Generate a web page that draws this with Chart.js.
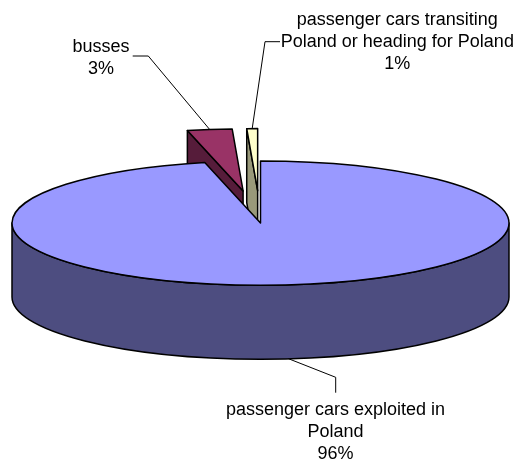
<!DOCTYPE html>
<html>
<head>
<meta charset="utf-8">
<script src="https://cdn.jsdelivr.net/npm/chart.js@4.4.1/dist/chart.umd.min.js"></script>
<style>
  html, body { margin: 0; padding: 0; background: #fff; }
  canvas { display: block; }
</style>
</head>
<body>
<canvas id="chart" width="522" height="465"></canvas>
<script>
const categories = [
  ['passenger cars exploited in', 'Poland'],
  ['busses'],
  ['passenger cars transiting', 'Poland or heading for Poland'],
];
const shares = [96.4, 2.9, 0.7];

const topColors = ['#9999ff', '#993366', '#ffffcc'];
const sideColors = ['#4d4d80', '#561c3a', '#99997a'];
const explode = [0, 0.52, 0.52]; // fraction of the radius
const tilt = 0.25;   // how flat the ellipse is
const depth = 74;    // thickness of the pie, px
const font = '18px "Liberation Sans", Arial, sans-serif';

// label centre + first baseline, and the two fixed points of each leader line
const labelSpots = [
  { x: 335.5, y: 415, path: [[335.7, 392.7], [335.7, 377.3]], from: 'bottom' },
  { x: 101, y: 51.7, path: [[132.7, 56], [148.3, 56]], from: 'top' },
  { x: 397.3, y: 25, path: [[280, 41.7], [265, 41.7]], from: 'top' },
];

function sliceGeometry(chart) {
  return chart.getDatasetMeta(0).data.map((arc, i) => {
    const { x, y, startAngle, endAngle, outerRadius } =
      arc.getProps(['x', 'y', 'startAngle', 'endAngle', 'outerRadius'], true);
    const mid = (startAngle + endAngle) / 2;
    const push = explode[i] * outerRadius;
    return {
      arc, i, x, y, mid, push,
      a0: startAngle, a1: endAngle,
      cx: x + Math.cos(mid) * push,
      cy: y + Math.sin(mid) * push * tilt,
      rx: outerRadius,
      ry: outerRadius * tilt,
    };
  });
}

const pie3d = {
  id: 'pie3d',
  beforeDatasetsDraw(chart) {
    const ctx = chart.ctx;
    const slices = sliceGeometry(chart);
    ctx.save();
    ctx.lineWidth = 1.5;
    ctx.strokeStyle = '#000';
    ctx.lineJoin = 'round';

    // cut faces turned towards the viewer
    slices.forEach(s => {
      const walls = [];
      if (Math.cos(s.a0) < -1e-6) walls.push(s.a0);
      if (Math.cos(s.a1) > 1e-6) walls.push(s.a1);
      walls.forEach(a => {
        const ox = s.cx + Math.cos(a) * s.rx;
        const oy = s.cy + Math.sin(a) * s.ry;
        ctx.beginPath();
        ctx.moveTo(s.cx, s.cy);
        ctx.lineTo(ox, oy);
        ctx.lineTo(ox, oy + depth);
        ctx.lineTo(s.cx, s.cy + depth);
        ctx.closePath();
        ctx.fillStyle = sideColors[s.i];
        ctx.fill();
        ctx.stroke();
      });
    });

    // front rim
    slices.forEach(s => {
      const b0 = Math.max(s.a0, 0);
      const b1 = Math.min(s.a1, Math.PI);
      if (b1 <= b0) return;
      ctx.beginPath();
      ctx.ellipse(s.cx, s.cy, s.rx, s.ry, 0, b0, b1);
      ctx.ellipse(s.cx, s.cy + depth, s.rx, s.ry, 0, b1, b0, true);
      ctx.closePath();
      ctx.fillStyle = sideColors[s.i];
      ctx.fill();
      ctx.stroke();
    });

    // top faces, drawn by the arc elements in a squashed context
    slices.forEach(s => {
      ctx.save();
      ctx.translate(0, s.y);
      ctx.scale(1, tilt);
      ctx.translate(Math.cos(s.mid) * s.push, Math.sin(s.mid) * s.push - s.y);
      s.arc.draw(ctx);
      ctx.restore();
      ctx.beginPath();
      ctx.moveTo(s.cx, s.cy);
      ctx.ellipse(s.cx, s.cy, s.rx, s.ry, 0, s.a0, s.a1);
      ctx.closePath();
      ctx.stroke();
    });
    ctx.restore();
    return false;
  },
  afterDraw(chart) {
    const ctx = chart.ctx;
    const slices = sliceGeometry(chart);
    const total = shares.reduce((a, b) => a + b, 0);
    ctx.save();
    ctx.font = font;
    ctx.fillStyle = '#000';
    ctx.textAlign = 'center';
    ctx.textBaseline = 'alphabetic';
    ctx.strokeStyle = '#000';
    ctx.lineWidth = 1;
    slices.forEach(s => {
      const spot = labelSpots[s.i];
      const px = s.cx + Math.cos(s.mid) * s.rx;
      const py = s.cy + Math.sin(s.mid) * s.ry + (spot.from === 'bottom' ? depth : 0);
      ctx.beginPath();
      ctx.moveTo(spot.path[0][0], spot.path[0][1]);
      ctx.lineTo(spot.path[1][0], spot.path[1][1]);
      ctx.lineTo(px, py);
      ctx.stroke();
      const lines = [...categories[s.i], Math.round(shares[s.i] / total * 100) + '%'];
      lines.forEach((t, k) => ctx.fillText(t, spot.x, spot.y + k * 22.2));
    });
    ctx.restore();
  }
};

new Chart(document.getElementById('chart'), {
  type: 'pie',
  data: {
    labels: categories.map(c => c.join(' ')),
    datasets: [{
      data: shares,
      backgroundColor: topColors,
      borderWidth: 0,
      radius: 248.5,
    }]
  },
  options: {
    responsive: false,
    animation: false,
    layout: { padding: { left: 0, right: 1, top: 0, bottom: 19 } },
    plugins: {
      legend: { display: false },
      tooltip: { enabled: false },
    },
  },
  plugins: [pie3d],
});
</script>
</body>
</html>
